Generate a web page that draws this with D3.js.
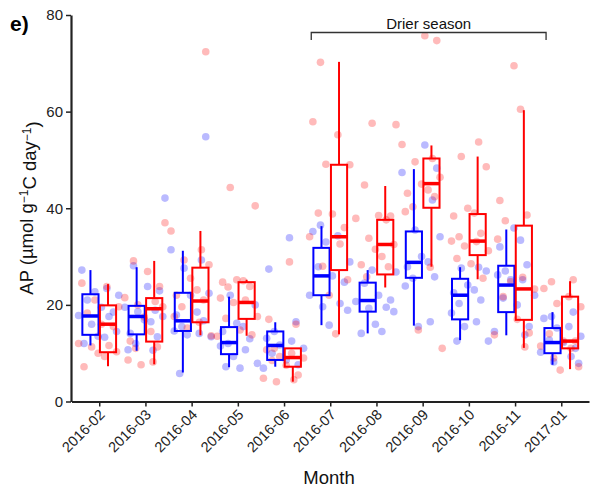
<!DOCTYPE html>
<html>
<head>
<meta charset="utf-8">
<script src="https://cdn.jsdelivr.net/npm/d3@7"></script>
<style>
  body { margin: 0; background: #fff; }
  svg { font-family: "Liberation Sans", Arial, sans-serif; }
  .axis path, .axis line { stroke: #222; }
  .axis text { font-size: 15px; fill: #222; }
</style>
</head>
<body>
<svg width="592" height="490"></svg>
<script>
var months = ["2016-02","2016-03","2016-04","2016-05","2016-06","2016-07","2016-08","2016-09","2016-10","2016-11","2017-01"];
var drierSeason = ["2016-07", "2016-11"];

// box stats: [whisker low, q1, median, q3, whisker high]
var blueBoxes = [
  [11.6, 13.8, 17.7, 22.2, 27.2],
  [10.5, 13.9, 17.6, 19.8, 27.8],
  [6.0, 14.6, 16.7, 22.5, 31.2],
  [7.1, 9.8, 12.2, 15.4, 21.7],
  [7.2, 8.6, 11.6, 14.5, 16.4],
  [15.8, 22.0, 26.0, 31.8, 36.3],
  [14.1, 18.6, 20.9, 24.6, 27.2],
  [15.7, 25.6, 28.8, 35.2, 48.1],
  [12.7, 17.0, 22.0, 25.4, 27.8],
  [13.7, 18.5, 24.1, 28.1, 35.6],
  [7.6, 10.0, 12.2, 15.2, 18.5]
];
var redBoxes = [
  [7.3, 10.2, 16.0, 19.9, 24.3],
  [7.7, 12.4, 19.2, 21.4, 29.1],
  [13.7, 16.4, 20.8, 27.7, 35.3],
  [13.6, 17.1, 20.5, 24.7, 25.2],
  [4.1, 7.2, 9.1, 11.0, 11.0],
  [13.9, 27.2, 34.1, 49.0, 70.3],
  [23.6, 26.3, 32.5, 37.6, 44.6],
  [27.9, 40.1, 45.1, 50.3, 53.0],
  [25.3, 30.3, 33.2, 38.8, 50.7],
  [11.1, 16.9, 23.3, 36.4, 60.3],
  [6.7, 11.0, 12.5, 21.7, 24.9]
];

// individual samples per month
var bluePoints = [
  [27.2, 23.4, 22.7, 22.0, 21.0, 19.5, 18.5, 17.8, 17.6, 16.0, 14.5, 13.5, 13.3, 12.0],
  [42.1, 28.1, 23.8, 22.9, 19.5, 18.9, 18.6, 17.6, 16.9, 16.5, 14.1, 13.4, 12.0, 10.7, 10.6],
  [54.8, 31.4, 29.3, 27.6, 22.4, 22.0, 18.5, 17.9, 16.7, 15.5, 14.6, 14.1, 13.8, 13.4, 5.8],
  [22.0, 20.0, 16.2, 15.5, 14.5, 13.0, 12.0, 11.5, 10.7, 9.3, 7.9, 7.2, 6.9],
  [33.9, 27.4, 16.5, 14.5, 13.1, 12.5, 11.7, 11.0, 10.0, 8.6, 7.6, 6.9],
  [36.5, 35.2, 34.3, 33.0, 28.9, 27.9, 26.0, 24.7, 22.0, 20.3, 19.6, 18.9, 15.8],
  [27.2, 26.8, 24.5, 22.0, 21.0, 20.7, 19.5, 19.3, 18.6, 16.0, 14.5, 14.1],
  [53.1, 48.3, 47.4, 41.7, 35.5, 34.1, 30.0, 28.9, 27.9, 25.8, 25.5, 23.9, 16.5, 15.5],
  [27.8, 27.6, 27.0, 24.1, 23.1, 22.5, 21.0, 20.3, 18.3, 16.5, 15.5, 12.5, 12.5],
  [35.9, 33.4, 32.0, 28.3, 27.0, 26.2, 25.2, 25.2, 22.0, 21.4, 20.0, 15.5, 14.5, 13.8],
  [18.5, 17.6, 17.2, 15.5, 15.2, 13.5, 12.7, 12.2, 11.0, 10.2, 9.3, 8.2, 7.9]
];
var redPoints = [
  [24.5, 23.8, 21.0, 19.6, 18.3, 16.0, 15.5, 12.0, 11.6, 11.3, 10.3, 10.0, 9.3, 7.2],
  [37.0, 29.1, 26.9, 23.8, 21.5, 20.7, 20.0, 19.6, 17.5, 14.5, 12.5, 11.3, 11.0, 8.6, 8.2, 7.6],
  [72.4, 35.3, 31.4, 29.3, 28.3, 25.5, 23.1, 22.0, 21.0, 19.6, 17.6, 16.4, 15.2, 13.6],
  [44.3, 40.5, 25.2, 25.0, 24.7, 23.8, 23.7, 21.4, 21.0, 20.5, 17.6, 17.2, 14.8, 13.8, 13.5],
  [28.9, 17.0, 16.0, 11.0, 10.7, 10.0, 9.3, 9.0, 8.5, 7.5, 5.5, 4.8, 4.5, 4.1],
  [70.2, 57.9, 55.2, 49.1, 49.0, 39.0, 38.8, 36.0, 34.1, 32.6, 28.0, 25.2, 22.0, 14.0],
  [57.6, 57.3, 44.8, 38.5, 38.4, 37.9, 37.6, 33.8, 32.5, 31.5, 30.0, 28.3, 27.9, 25.8],
  [75.7, 74.7, 53.2, 50.3, 49.6, 46.4, 45.0, 43.8, 43.1, 42.4, 40.3, 39.3, 27.8, 14.8, 11.0],
  [53.7, 50.7, 48.6, 40.0, 39.0, 38.4, 34.8, 34.1, 33.2, 33.1, 32.2, 31.2, 29.6, 28.5, 25.5],
  [69.5, 60.5, 41.6, 38.6, 37.4, 33.6, 25.7, 24.8, 23.3, 21.7, 17.0, 14.2, 13.8, 11.3],
  [25.2, 24.8, 23.4, 21.7, 20.3, 19.6, 14.0, 12.5, 12.5, 11.5, 11.0, 9.0, 7.2, 6.5]
];

var yTicks = [0, 20, 40, 60, 80];

// fixed jitter pattern (fraction of half step)
var jitter = [-0.8, 0.35, -0.2, 0.9, -0.55, 0.1, 0.65, -0.95, 0.45, -0.35, 0.8, -0.05, 0.25, -0.7, 0.55, -0.45];

var svg = d3.select("svg");

var x = d3.scalePoint().domain(months).range([71.5, 589]).padding(0.6),
    y = d3.scaleLinear().domain([0, 80]).range([401.5, 15]);

var step = x.step(),
    dodge = step * 0.19,
    boxW = step * 0.35;

svg.append("g")
    .attr("class", "axis")
    .attr("transform", "translate(71,0)")
    .call(d3.axisLeft(y).tickValues(yTicks).tickSize(5).tickPadding(3).tickSizeOuter(0))
    .call(function(g) { g.select(".domain").attr("stroke-width", 2.2); g.selectAll(".tick line").attr("stroke-width", 1.5); });

var xAxis = svg.append("g")
    .attr("class", "axis")
    .attr("transform", "translate(0,401.5)")
    .call(d3.axisBottom(x).tickSize(5).tickSizeOuter(0))
    .call(function(g) { g.select(".domain").attr("stroke-width", 2.2); g.selectAll(".tick line").attr("stroke-width", 1.5); });

xAxis.selectAll(".tick text")
    .style("font-size", "14.5px")
    .attr("text-anchor", "end")
    .attr("dy", null)
    .attr("y", 0)
    .attr("transform", "translate(6,14) rotate(-45)");

// points
function drawPoints(data, color, cls) {
  var flat = [];
  data.forEach(function(vals, i) {
    vals.forEach(function(v, j) {
      flat.push({month: months[i], value: v, j: jitter[(j + i * 3) % jitter.length]});
    });
  });
  svg.append("g").selectAll("circle." + cls)
    .data(flat)
    .enter().append("circle")
      .attr("class", cls)
      .attr("cx", function(d) { return x(d.month) + d.j * step * 0.47; })
      .attr("cy", function(d) { return y(d.value); })
      .attr("r", 3.8)
      .attr("fill", color)
      .attr("fill-opacity", 0.27);
}
drawPoints(bluePoints, "#0000ff", "bpt");
drawPoints(redPoints, "#ff0000", "rpt");

// boxes
function drawBoxes(stats, color, offset) {
  var g = svg.append("g").selectAll("g")
    .data(stats)
    .enter().append("g")
      .attr("transform", function(d, i) { return "translate(" + (x(months[i]) + offset) + ",0)"; });

  g.append("line")
      .attr("y1", function(d) { return y(d[0]); })
      .attr("y2", function(d) { return y(d[1]); })
      .attr("stroke", color).attr("stroke-width", 2);
  g.append("line")
      .attr("y1", function(d) { return y(d[3]); })
      .attr("y2", function(d) { return y(d[4]); })
      .attr("stroke", color).attr("stroke-width", 2);
  g.append("rect")
      .attr("x", -boxW / 2)
      .attr("width", boxW)
      .attr("y", function(d) { return y(d[3]); })
      .attr("height", function(d) { return y(d[1]) - y(d[3]); })
      .attr("fill", "none")
      .attr("stroke", color).attr("stroke-width", 2);
  g.append("line")
      .attr("x1", -boxW / 2).attr("x2", boxW / 2)
      .attr("y1", function(d) { return y(d[2]); })
      .attr("y2", function(d) { return y(d[2]); })
      .attr("stroke", color).attr("stroke-width", 3.5);
}
drawBoxes(blueBoxes, "#0000ff", -dodge);
drawBoxes(redBoxes, "#ff0000", dodge);

// drier season bracket
var bx0 = x(drierSeason[0]) - 19,
    bx1 = x(drierSeason[1]) + 31;
svg.append("path")
    .attr("d", "M" + bx0 + ",40V32.5H" + bx1 + "V40")
    .attr("fill", "none")
    .attr("stroke", "#333")
    .attr("stroke-width", 1.3);
svg.append("text")
    .attr("x", (bx0 + bx1) / 2)
    .attr("y", 28.5)
    .attr("text-anchor", "middle")
    .style("font-size", "15px")
    .attr("fill", "#111")
    .text("Drier season");

// labels
svg.append("text")
    .attr("x", 10).attr("y", 31)
    .style("font-size", "21px").style("font-weight", "bold")
    .text("e)");

svg.append("text")
    .attr("x", 329).attr("y", 484)
    .attr("text-anchor", "middle")
    .style("font-size", "18.5px")
    .attr("fill", "#111")
    .text("Month");

var yl = svg.append("text")
    .attr("transform", "translate(33,208) rotate(-90)")
    .attr("text-anchor", "middle")
    .style("font-size", "18.5px")
    .attr("fill", "#111");
yl.append("tspan").text("AP (\u00b5mol g");
yl.append("tspan").attr("dy", "-0.45em").style("font-size", "12px").text("\u22121");
yl.append("tspan").attr("dy", "0.45em").text("C day");
yl.append("tspan").attr("dy", "-0.45em").style("font-size", "12px").text("\u22121");
yl.append("tspan").attr("dy", "0.45em").text(")");
</script>
</body>
</html>
